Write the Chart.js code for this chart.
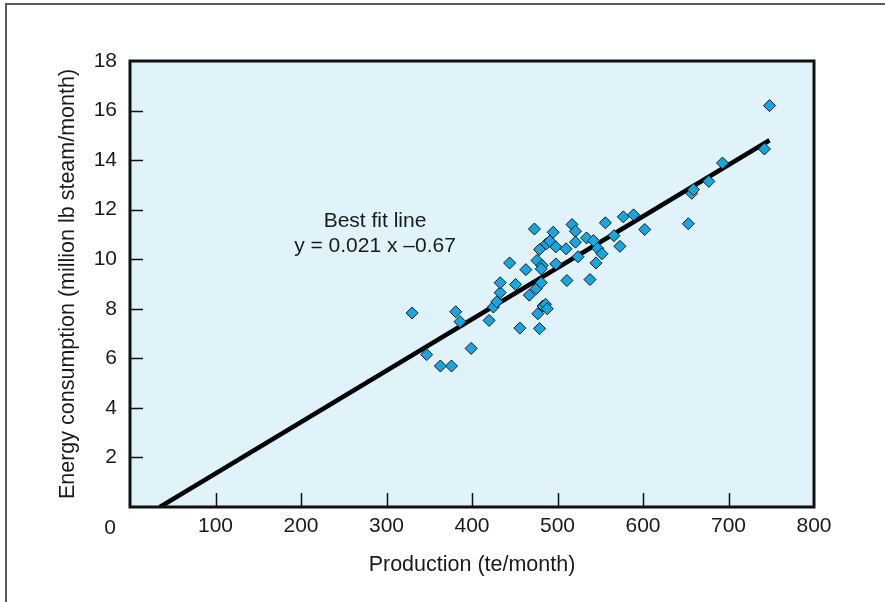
<!DOCTYPE html>
<html>
<head>
<meta charset="utf-8">
<title>Energy consumption vs production</title>
<script src="https://cdn.jsdelivr.net/npm/chart.js@4.4.1/dist/chart.umd.min.js"></script>
<style>
  html, body { margin: 0; padding: 0; background: #fff; }
  #wrap { position: relative; width: 885px; height: 602px; }
</style>
</head>
<body>
<div id="wrap"><canvas id="chart" width="885" height="602"></canvas></div>
<script>
// ============================================
// DATA
// ============================================
const productionX = [
  330, 347, 363, 376, 381, 386, 399, 420, 425, 429,
  433, 433, 444, 451, 456, 463, 467, 473, 475, 476,
  479, 481, 482, 481, 477, 479, 483, 486, 488, 487,
  491, 495, 498, 498, 510, 511, 517, 521, 521, 524,
  534, 538, 542, 545, 547, 552, 556, 566, 573, 577,
  589, 602, 653, 657, 659, 677, 693, 742, 748
];
const energyY = [
  7.83, 6.15, 5.69, 5.69, 7.88, 7.48, 6.40, 7.53, 8.07, 8.28,
  8.65, 9.05, 9.85, 8.98, 7.22, 9.58, 8.55, 11.22, 8.81, 9.95,
  10.39, 9.05, 9.75, 9.61, 7.80, 7.20, 8.11, 8.18, 8.00, 10.62,
  10.73, 11.09, 10.50, 9.81, 10.42, 9.14, 11.40, 11.13, 10.69, 10.10,
  10.86, 9.18, 10.75, 9.85, 10.44, 10.22, 11.47, 10.95, 10.52, 11.71,
  11.79, 11.20, 11.43, 12.66, 12.81, 13.14, 13.88, 14.45, 16.20
];

// best fit line as drawn (end points)
const fitX = [35, 748];
const fitY = [0, 14.8];

const xTicks = [0, 100, 200, 300, 400, 500, 600, 700, 800];
const yTicks = [0, 2, 4, 6, 8, 10, 12, 14, 16, 18];

const fitLabel = ['Best fit line', 'y = 0.021 x \u20130.67'];
const xTitle = 'Production (te/month)';
const yTitle = 'Energy consumption (million lb steam/month)';

// ============================================
// STYLE
// ============================================
const FONT = "'Liberation Sans', Arial, Helvetica, sans-serif";
const TEXT = '#1a1a1a';

const points = productionX.map((x, i) => ({ x, y: energyY[i] }));
const fitLine = fitX.map((x, i) => ({ x, y: fitY[i] }));

// background, frame, inner ticks, origin label and annotation
const decor = {
  id: 'decor',
  beforeDraw(chart) {
    const { ctx, chartArea: a } = chart;
    ctx.save();
    // page frame (top + left only)
    ctx.strokeStyle = '#5b5b5b';
    ctx.lineWidth = 2;
    ctx.beginPath();
    ctx.moveTo(6, chart.height);
    ctx.lineTo(6, 4);
    ctx.lineTo(chart.width, 4);
    ctx.stroke();
    // plot background
    ctx.fillStyle = '#e0f2fa';
    ctx.fillRect(a.left, a.top, a.right - a.left, a.bottom - a.top);
    ctx.restore();
  },
  afterDraw(chart) {
    const { ctx, chartArea: a, scales } = chart;
    const xs = scales.x, ys = scales.y;
    ctx.save();
    // inner tick marks
    ctx.strokeStyle = '#111';
    ctx.lineWidth = 1.5;
    ctx.beginPath();
    yTicks.slice(1, -1).forEach(v => {
      const py = Math.round(ys.getPixelForValue(v)) + 0.5;
      ctx.moveTo(a.left, py);
      ctx.lineTo(a.left + 13, py);
    });
    xTicks.slice(1, -1).forEach(v => {
      const px = Math.round(xs.getPixelForValue(v)) + 0.5;
      ctx.moveTo(px, a.bottom);
      ctx.lineTo(px, a.bottom - 14);
    });
    ctx.stroke();
    // thick box
    ctx.strokeStyle = '#111';
    ctx.lineWidth = 3;
    ctx.strokeRect(a.left, a.top, a.right - a.left, a.bottom - a.top);
    // origin label
    ctx.fillStyle = TEXT;
    ctx.font = '21px ' + FONT;
    ctx.textAlign = 'center';
    ctx.textBaseline = 'alphabetic';
    ctx.fillText('0', xs.getPixelForValue(0) - 20, 534);
    // best fit annotation
    ctx.fillText(fitLabel[0], 375, 227);
    ctx.fillText(fitLabel[1], 375, 252);
    ctx.restore();
  }
};

new Chart(document.getElementById('chart'), {
  type: 'scatter',
  data: {
    datasets: [
      {
        label: 'Data',
        data: points,
        order: 1,
        pointStyle: 'rectRot',
        pointRadius: 6,
        pointBackgroundColor: '#16a6e2',
        pointBorderColor: '#1a1a1a',
        pointBorderWidth: 1
      },
      {
        label: 'Best fit',
        type: 'line',
        data: fitLine,
        order: 2,
        showLine: true,
        borderColor: '#000',
        borderWidth: 4.5,
        pointRadius: 0,
        fill: false
      }
    ]
  },
  options: {
    responsive: false,
    animation: false,
    layout: { padding: { left: 0, right: 71, top: 61, bottom: 0 } },
    plugins: {
      legend: { display: false },
      tooltip: { enabled: false }
    },
    scales: {
      x: {
        type: 'linear',
        min: 0,
        max: 800,
        afterFit(scale) { scale.height = 95; },
        afterBuildTicks(scale) { scale.ticks = xTicks.map(v => ({ value: v })); },
        grid: { display: false, drawTicks: false },
        border: { display: false },
        ticks: {
          padding: 7,
          color: TEXT,
          font: { family: FONT, size: 21 },
          callback: v => (v === 0 ? '' : v)
        },
        title: {
          display: true,
          text: xTitle,
          color: TEXT,
          font: { family: FONT, size: 21.5 },
          padding: { top: 0, bottom: 24 }
        }
      },
      y: {
        type: 'linear',
        min: 0,
        max: 18,
        afterFit(scale) { scale.width = 130; },
        afterBuildTicks(scale) { scale.ticks = yTicks.map(v => ({ value: v })); },
        grid: { display: false, drawTicks: false },
        border: { display: false },
        ticks: {
          padding: 13,
          color: TEXT,
          font: { family: FONT, size: 21 },
          callback: v => (v === 0 ? '' : v)
        },
        title: {
          display: true,
          text: yTitle,
          color: TEXT,
          font: { family: FONT, size: 21.5 },
          padding: { top: 55, bottom: 0 }
        }
      }
    }
  },
  plugins: [decor]
});
</script>
</body>
</html>
